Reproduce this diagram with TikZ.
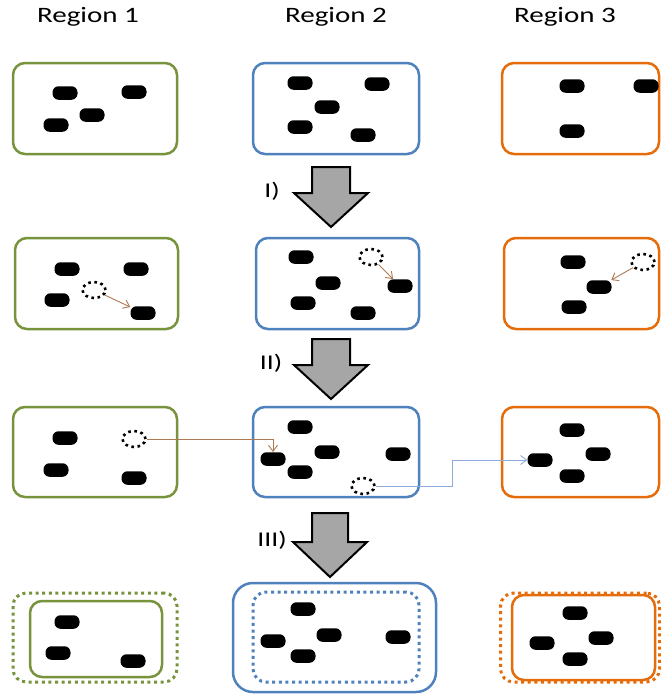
\documentclass[tikz,border=0pt]{standalone}
\usepackage{fontspec}
\setmainfont{Carlito}
\usetikzlibrary{shapes.geometric,arrows.meta}

\definecolor{regA}{HTML}{77933C}
\definecolor{regB}{HTML}{4F81BD}
\definecolor{regC}{HTML}{E46C0A}
\definecolor{migbrown}{RGB}{172,122,84}
\definecolor{migblue}{RGB}{143,170,220}
\definecolor{stepgray}{HTML}{A6A6A6}

\tikzset{
  regbox/.style={draw, rectangle, rounded corners=12pt, line width=2.5pt,
    inner sep=0pt, minimum width=#1},
  regbox/.default=164pt,
  dotbox/.style={draw, rectangle, rounded corners=13pt, line width=3pt,
    dash pattern=on 3pt off 3.6pt, inner sep=0pt},
  blob/.style={fill=black, rectangle, rounded corners=6pt, inner sep=0pt,
    minimum width=25pt, minimum height=13.5pt},
  ghost/.style={ellipse, draw=black, line width=2.6pt, dash pattern=on 2.6pt off 3.6pt,
    inner sep=0pt, minimum width=23pt, minimum height=16pt},
  mig/.style={line width=0.9pt, -{Straight Barb[length=6pt,width=9pt,line width=0.9pt]}},
  blockarrow/.style={draw=black, line width=2pt, fill=stepgray, line join=miter},
  steplabel/.style={font=\fontsize{21}{25}\selectfont, inner sep=0pt},
  header/.style={font=\fontsize{22}{26}\selectfont, inner sep=0pt},
}

\begin{document}
\begin{tikzpicture}[x=1pt, y=-1pt]
\useasboundingbox (0,0) rectangle (661,696);

% column headings
\node[header] (h1) at (88,17) {\scalebox{1.32}[1]{Region 1}};
\node[header] (h2) at (336,17) {\scalebox{1.32}[1]{Region 2}};
\node[header] (h3) at (565,17) {\scalebox{1.32}[1]{Region 3}};

% ---------- stage 0 ----------
\node[regbox=164pt, draw=regA, minimum height=91pt] (g1) at (95,108.5) {};
\node[regbox=166pt, draw=regB, minimum height=91pt] (b1) at (336,108.5) {};
\node[regbox=157pt, draw=regC, minimum height=91pt] (o1) at (580.5,108.5) {};
\node[blob] (g1a) at (65,93) {};
\node[blob] (g1b) at (134,92) {};
\node[blob] (g1c) at (92,115) {};
\node[blob] (g1d) at (56,125) {};
\node[blob] (b1a) at (300,83) {};
\node[blob] (b1b) at (377,84) {};
\node[blob] (b1c) at (327,107) {};
\node[blob] (b1d) at (300,127) {};
\node[blob] (b1e) at (363,135) {};
\node[blob] (o1a) at (572,86) {};
\node[blob] (o1b) at (646,86) {};
\node[blob] (o1c) at (572,131) {};

% step I
\draw[blockarrow] (312,167) -- (350,167) -- (350,193) -- (368,193) -- (331,227)
  -- (294,193) -- (312,193) -- cycle;
\node[steplabel] (s1) at (272,191) {\scalebox{1.32}[1]{I)}};

% ---------- stage 1 ----------
\node[regbox=163pt, draw=regA, minimum height=91pt] (g2) at (96.5,283.5) {};
\node[regbox=163pt, draw=regB, minimum height=91pt] (b2) at (337.5,283.5) {};
\node[regbox=155pt, draw=regC, minimum height=91pt] (o2) at (581.5,283.5) {};
\node[blob] (g2a) at (67,269) {};
\node[blob] (g2b) at (136,269) {};
\node[blob] (g2c) at (57,300) {};
\node[blob] (g2d) at (143,313) {};
\node[ghost] (g2x) at (94,290) {};
\node[blob] (b2a) at (301,257) {};
\node[blob] (b2b) at (328,283) {};
\node[blob] (b2c) at (303,303) {};
\node[blob] (b2d) at (363,313) {};
\node[blob] (b2e) at (400,286) {};
\node[ghost] (b2x) at (371,257) {};
\node[blob] (o2a) at (573,262) {};
\node[blob] (o2b) at (599,287) {};
\node[blob] (o2c) at (574,307) {};
\node[ghost] (o2x) at (643,262) {};
\draw[mig, migbrown] (g2x) -- (g2d);
\draw[mig, migbrown] (b2x) -- (b2e);
\draw[mig, migbrown] (o2x) -- (o2b);

% step II
\draw[blockarrow] (312,339) -- (350,339) -- (350,365) -- (368,365) -- (331,399)
  -- (294,365) -- (312,365) -- cycle;
\node[steplabel] (s2) at (271,363) {\scalebox{1.32}[1]{II)}};

% ---------- stage 2 ----------
\node[regbox=164pt, draw=regA, minimum height=90pt] (g3) at (95,452) {};
\node[regbox=166pt, draw=regB, minimum height=90pt] (b3) at (336,452) {};
\node[regbox=157pt, draw=regC, minimum height=90pt] (o3) at (580.5,452) {};
\node[blob] (g3a) at (65,438) {};
\node[blob] (g3b) at (56,470) {};
\node[blob] (g3c) at (134,478) {};
\node[ghost] (g3x) at (134,439) {};
\node[blob] (b3a) at (300,427) {};
\node[blob] (b3b) at (273,459) {};
\node[blob] (b3c) at (327,452) {};
\node[blob] (b3d) at (300,472) {};
\node[blob] (b3e) at (398,454) {};
\node[ghost] (b3x) at (363,486) {};
\node[blob] (o3a) at (572,430) {};
\node[blob] (o3b) at (540,460) {};
\node[blob] (o3c) at (598,454) {};
\node[blob] (o3d) at (572,476) {};
\draw[mig, migbrown] (g3x.east) -| (b3b.north);
\coordinate (turn) at (452,460);
\draw[mig, migblue] (b3x.east) -| (turn) -- (o3b.west);

% step III
\draw[blockarrow] (312,513) -- (348,513) -- (348,542) -- (367,542) -- (330,577)
  -- (293,542) -- (312,542) -- cycle;
\node[steplabel] (s3) at (272,540) {\scalebox{1.32}[1]{III)}};

% ---------- stage 3 ----------
\node[dotbox, draw=regA, minimum width=164pt, minimum height=89pt] (g4o) at (95,637.5) {};
\node[regbox=132pt, draw=regA, minimum height=76pt] (g4) at (96,639) {};
\node[regbox=203pt, draw=regB, minimum height=109pt, rounded corners=20pt] (b4) at (334.5,637.5) {};
\node[dotbox, draw=regB, minimum width=166pt, minimum height=90pt] (b4i) at (336,637) {};
\node[dotbox, draw=regC, minimum width=159pt, minimum height=89pt] (o4o) at (580,637.5) {};
\node[regbox=143pt, draw=regC, minimum height=85pt] (o4) at (583.5,637.5) {};
\node[blob] (g4a) at (67,622) {};
\node[blob] (g4b) at (58,653) {};
\node[blob] (g4c) at (133,661) {};
\node[blob] (b4a) at (303,609) {};
\node[blob] (b4b) at (273,641) {};
\node[blob] (b4c) at (329,635) {};
\node[blob] (b4d) at (303,656) {};
\node[blob] (b4e) at (398,637) {};
\node[blob] (o4a) at (575,613) {};
\node[blob] (o4b) at (542,643) {};
\node[blob] (o4c) at (601,638) {};
\node[blob] (o4d) at (575,659) {};
\end{tikzpicture}
\end{document}
